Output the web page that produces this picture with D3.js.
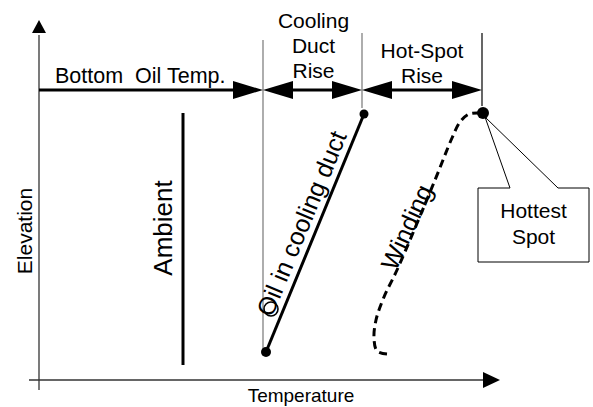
<!DOCTYPE html>
<html>
<head>
<meta charset="utf-8">
<script src="https://cdn.jsdelivr.net/npm/d3@7"></script>
<style>
  body { margin: 0; background: #fff; }
  text { font-family: 'Liberation Sans', Arial, sans-serif; fill: #000; }
</style>
</head>
<body>
<div id="chart"></div>
<script>
// temperature (x) and elevation (y) in drawing units
const ambientLine = [[144, 15], [144, 267]];
const oilDuctLine = [[227, 28], [325, 266]];
const windingCurve = [
  [348, 26], [338, 29], [335, 42], [337, 60], [345, 83], [358, 110],
  [396, 200], [413, 242], [421, 258], [430, 266], [441, 267]
];
const hottestSpot = [444, 267];

// temperature levels marked along the top
const levels = [0, 224, 323, 443];
const levelNames = ['Bottom  Oil Temp.', ['Cooling', 'Duct', 'Rise'], ['Hot-Spot', 'Rise']];
const dimElevation = 290;

const width = 593;
const height = 407;

const x = d3.scaleLinear().domain([0, 461]).range([39, 500]);
const y = d3.scaleLinear().domain([0, 360]).range([380, 20]);

const svg = d3.select('#chart').append('svg')
  .attr('width', width)
  .attr('height', height);

function arrowHead(tipX, tipY, dir, len, half) {
  // dir: 1 points right, -1 points left, 'up' points up
  if (dir === 'up') {
    return [[tipX, tipY], [tipX - half, tipY + len], [tipX + half, tipY + len]];
  }
  return [[tipX, tipY], [tipX - dir * len, tipY - half], [tipX - dir * len, tipY + half]];
}

function drawHead(pts) {
  svg.append('polygon')
    .attr('points', pts.map((p) => p.join(',')).join(' '))
    .attr('fill', '#000');
}

// axes
svg.append('line')
  .attr('x1', x(0)).attr('x2', x(0))
  .attr('y1', y(-10)).attr('y2', y(345))
  .attr('stroke', '#333').attr('stroke-width', 1.3);
drawHead(arrowHead(x(0), y(360), 'up', 13, 7));

svg.append('line')
  .attr('x1', x(-10)).attr('x2', x(445))
  .attr('y1', y(0)).attr('y2', y(0))
  .attr('stroke', '#333').attr('stroke-width', 1.3);
drawHead(arrowHead(x(461), y(0), 1, 17, 8));

svg.append('text')
  .attr('x', x(262)).attr('y', 402)
  .attr('text-anchor', 'middle')
  .attr('font-size', 19)
  .text('Temperature');

svg.append('text')
  .attr('transform', `translate(32,${y(149)}) rotate(-90)`)
  .attr('text-anchor', 'middle')
  .attr('font-size', 21)
  .text('Elevation');

// level guide lines
svg.append('line')
  .attr('x1', x(levels[1])).attr('x2', x(levels[1]))
  .attr('y1', y(340)).attr('y2', y(28))
  .attr('stroke', '#777').attr('stroke-width', 1.2);
svg.append('line')
  .attr('x1', x(levels[2])).attr('x2', x(levels[2]))
  .attr('y1', y(347)).attr('y2', y(272))
  .attr('stroke', '#777').attr('stroke-width', 1.2);
svg.append('line')
  .attr('x1', x(levels[3])).attr('x2', x(levels[3]))
  .attr('y1', y(347)).attr('y2', y(274))
  .attr('stroke', '#000').attr('stroke-width', 1.2);

// dimension arrows
const dy = y(dimElevation);
const headLen = 30;
const headHalf = 9;

svg.append('line')
  .attr('x1', x(levels[0])).attr('x2', x(levels[1]) - headLen + 2)
  .attr('y1', dy).attr('y2', dy)
  .attr('stroke', '#000').attr('stroke-width', 3);
drawHead(arrowHead(x(levels[1]), dy, 1, headLen, headHalf));

[[levels[1], levels[2]], [levels[2], levels[3]]].forEach(([a, b]) => {
  svg.append('line')
    .attr('x1', x(a) + headLen - 2).attr('x2', x(b) - headLen + 2)
    .attr('y1', dy).attr('y2', dy)
    .attr('stroke', '#000').attr('stroke-width', 3);
  drawHead(arrowHead(x(a), dy, -1, headLen, headHalf));
  drawHead(arrowHead(x(b), dy, 1, headLen, headHalf));
});

// dimension labels
svg.append('text')
  .attr('x', 55).attr('y', 83)
  .attr('font-size', 21.5)
  .attr('xml:space', 'preserve')
  .style('white-space', 'pre')
  .text(levelNames[0]);

const cool = svg.append('text')
  .attr('text-anchor', 'middle')
  .attr('font-size', 21);
levelNames[1].forEach((s, i) => {
  cool.append('tspan').attr('x', x((levels[1] + levels[2]) / 2) + 1).attr('y', 28 + i * 25).text(s);
});

const hot = svg.append('text')
  .attr('text-anchor', 'middle')
  .attr('font-size', 21);
levelNames[2].forEach((s, i) => {
  hot.append('tspan').attr('x', x((levels[2] + levels[3]) / 2)).attr('y', 58 + i * 25).text(s);
});

// ambient
svg.append('line')
  .attr('x1', x(ambientLine[0][0])).attr('x2', x(ambientLine[1][0]))
  .attr('y1', y(ambientLine[0][1])).attr('y2', y(ambientLine[1][1]))
  .attr('stroke', '#000').attr('stroke-width', 3);
svg.append('text')
  .attr('transform', `translate(172,${y(152)}) rotate(-90)`)
  .attr('text-anchor', 'middle')
  .attr('font-size', 26)
  .text('Ambient');

// oil in cooling duct
svg.append('line')
  .attr('x1', x(oilDuctLine[0][0])).attr('x2', x(oilDuctLine[1][0]))
  .attr('y1', y(oilDuctLine[0][1])).attr('y2', y(oilDuctLine[1][1]))
  .attr('stroke', '#000').attr('stroke-width', 3);
oilDuctLine.forEach((p, i) => {
  svg.append('circle')
    .attr('cx', x(p[0])).attr('cy', y(p[1]))
    .attr('r', i === 0 ? 5 : 4.5)
    .attr('fill', '#000');
});
// angle marker
svg.append('circle')
  .attr('cx', x(232)).attr('cy', y(71))
  .attr('r', 7)
  .attr('fill', 'none')
  .attr('stroke', '#000').attr('stroke-width', 1.6);

const oilAngle = Math.atan2(y(oilDuctLine[1][1]) - y(oilDuctLine[0][1]),
  x(oilDuctLine[1][0]) - x(oilDuctLine[0][0])) * 180 / Math.PI;
svg.append('text')
  .attr('transform', `translate(${x(227) + 6},${y(62)}) rotate(${oilAngle})`)
  .attr('font-size', 25)
  .text('Oil in cooling duct');

// winding
const line = d3.line()
  .x((d) => x(d[0]))
  .y((d) => y(d[1]))
  .curve(d3.curveCatmullRom.alpha(0.5));
svg.append('path')
  .attr('d', line(windingCurve))
  .attr('fill', 'none')
  .attr('stroke', '#000')
  .attr('stroke-width', 3)
  .attr('stroke-dasharray', '8,5');
svg.append('text')
  .attr('transform', `translate(396,${y(108)}) rotate(${oilAngle + 2})`)
  .attr('font-size', 25)
  .text('Winding');

// hottest spot + callout
const box = { x0: 478, x1: 589, y0: 188, y1: 262, g0: 510, g1: 558 };
svg.append('path')
  .attr('d', `M${box.g0},${box.y0} L${x(hottestSpot[0]) + 2},${y(hottestSpot[1]) + 4} L${box.g1},${box.y0}`
    + ` L${box.x1},${box.y0} L${box.x1},${box.y1} L${box.x0},${box.y1} L${box.x0},${box.y0} Z`)
  .attr('fill', '#fff')
  .attr('stroke', '#000')
  .attr('stroke-width', 1);
svg.append('circle')
  .attr('cx', x(hottestSpot[0])).attr('cy', y(hottestSpot[1]))
  .attr('r', 6)
  .attr('fill', '#000');

const hs = svg.append('text')
  .attr('text-anchor', 'middle')
  .attr('font-size', 21);
['Hottest', 'Spot'].forEach((s, i) => {
  hs.append('tspan').attr('x', (box.x0 + box.x1) / 2).attr('y', 218 + i * 26).text(s);
});
</script>
</body>
</html>
